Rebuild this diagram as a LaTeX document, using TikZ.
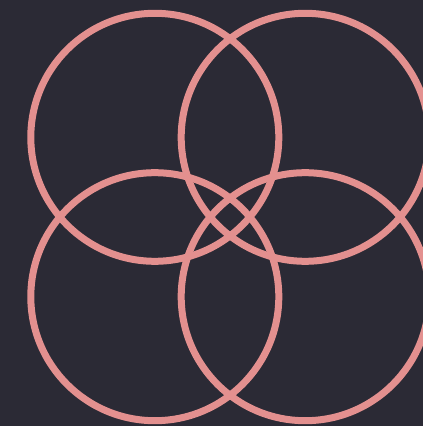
\documentclass[tikz,border=0pt]{standalone}
\usepackage{xcolor}
\usepackage{tikz}
\usetikzlibrary{positioning}

\definecolor{bgdark}{HTML}{2B2A35}
\definecolor{petal}{HTML}{E3908F}

\begin{document}
\begin{tikzpicture}[x=1pt, y=1pt]
        \tikzstyle{ring} = [circle, draw=petal, line width=7pt, minimum size=248pt, inner sep=0pt]

        \fill [bgdark] (0,0) rectangle (423,426);
        \useasboundingbox (0,0) rectangle (423,426);

        \node [ring] (topleft) at (154.8,288.7) {};
        \node [ring] (topright) at (305.2,288.7) {};
        \node [ring] (bottomleft) at (154.8,129.3) {};
        \node [ring] (bottomright) at (305.2,129.3) {};
    \end{tikzpicture}
\end{document}
